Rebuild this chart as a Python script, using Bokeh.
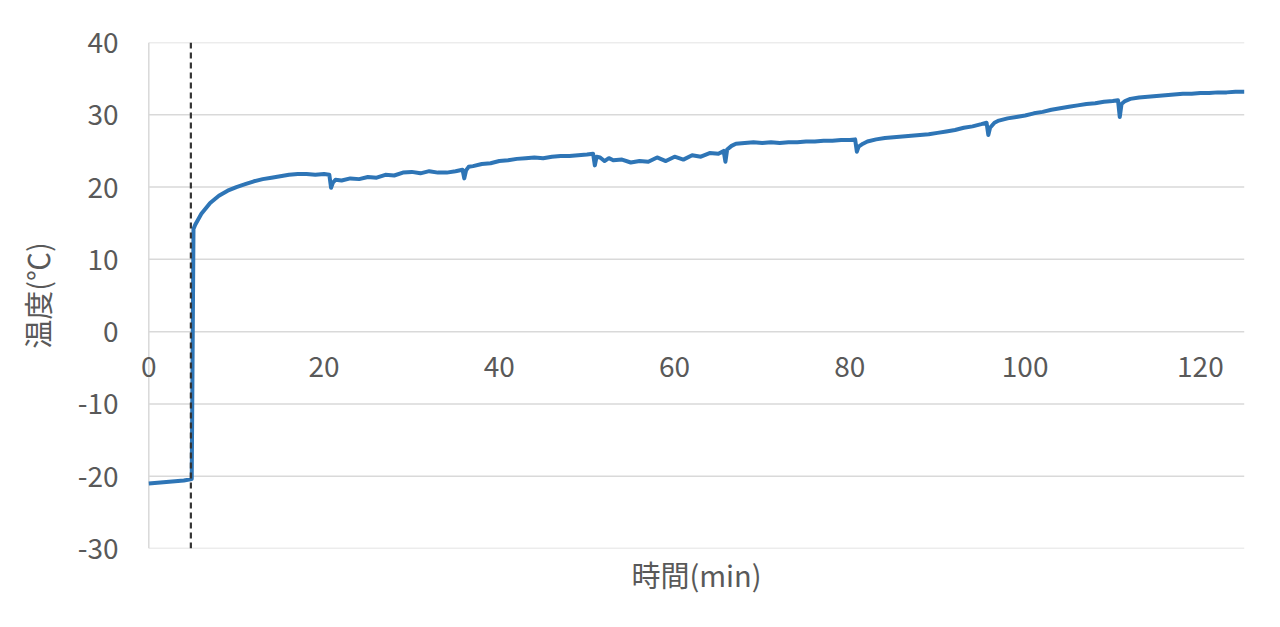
from bokeh.plotting import figure
from bokeh.models import Range1d, ColumnDataSource, Span, LabelSet
from bokeh.core.properties import value
from bokeh.embed import file_html
from bokeh.resources import INLINE

# --- data ---
time_min = [0, 1, 2, 3, 4, 4.9, 5.1, 5.3, 6, 7, 8, 9, 10, 11, 12, 13, 14, 15, 16, 17, 18, 19, 20,
            20.6, 20.8, 21.0, 21.3, 22, 23, 24, 25, 26, 27, 28, 29, 30, 31, 32, 33, 34, 35,
            35.8, 36.0, 36.2, 36.5, 37, 38, 39, 40, 41, 42, 43, 44, 45, 46, 47, 48, 49, 50,
            50.7, 50.9, 51.1, 51.5, 52, 52.5, 53, 54, 55, 56, 57, 58, 59, 60, 61, 62, 63, 64, 65,
            65.6, 65.8, 66.0, 66.5, 67, 68, 69, 70, 71, 72, 73, 74, 75, 76, 77, 78, 79, 80,
            80.6, 80.8, 81.0, 81.5, 82, 83, 84, 85, 86, 87, 88, 89, 90, 91, 92, 93, 94, 95,
            95.6, 95.8, 96.0, 96.5, 97, 98, 99, 100, 101, 102, 103, 104, 105, 106, 107, 108, 109, 110,
            110.6, 110.8, 111.0, 111.4, 112, 113, 114, 115, 116, 117, 118, 119, 120, 121, 122, 123, 124, 125]
temp_c = [-21.0, -20.9, -20.8, -20.7, -20.6, -20.4, 14.2, 14.8, 16.3, 17.8, 18.8, 19.5, 20.0, 20.4, 20.8, 21.1, 21.3, 21.5, 21.7, 21.8, 21.8, 21.7, 21.8,
          21.7, 19.9, 20.6, 21.0, 20.9, 21.2, 21.1, 21.4, 21.3, 21.7, 21.6, 22.0, 22.1, 21.9, 22.2, 22.0, 22.0, 22.2,
          22.4, 21.2, 22.3, 22.8, 22.9, 23.2, 23.3, 23.6, 23.7, 23.9, 24.0, 24.1, 24.0, 24.2, 24.3, 24.3, 24.4, 24.5,
          24.6, 23.0, 24.2, 24.1, 23.6, 24.0, 23.7, 23.8, 23.4, 23.6, 23.5, 24.1, 23.6, 24.2, 23.8, 24.4, 24.2, 24.7, 24.6,
          25.0, 23.5, 25.2, 25.7, 26.0, 26.1, 26.2, 26.1, 26.2, 26.1, 26.2, 26.2, 26.3, 26.3, 26.4, 26.4, 26.5, 26.5,
          26.6, 24.9, 25.6, 26.0, 26.3, 26.6, 26.8, 26.9, 27.0, 27.1, 27.2, 27.3, 27.5, 27.7, 27.9, 28.2, 28.4, 28.7,
          28.9, 27.2, 28.2, 28.9, 29.2, 29.5, 29.7, 29.9, 30.2, 30.4, 30.7, 30.9, 31.1, 31.3, 31.5, 31.6, 31.8, 31.9,
          32.0, 29.7, 31.5, 31.9, 32.2, 32.4, 32.5, 32.6, 32.7, 32.8, 32.9, 32.9, 33.0, 33.0, 33.1, 33.1, 33.2, 33.2]
x_ticks = [0, 20, 40, 60, 80, 100, 120]
x_tick_labels = ["0", "20", "40", "60", "80", "100", "120"]
y_ticks = [-30, -20, -10, 0, 10, 20, 30, 40]
y_tick_labels = ["-30", "-20", "-10", "0", "10", "20", "30", "40"]
x_min, x_max = 0, 125
y_min, y_max = -30, 40
event_time = 4.8

GRAY_TXT = "#595959"
GRID = "#d9d9d9"
FONT = "Noto Sans CJK JP"

# the frame is padded left/right so the "0" tick label at the axis is not clipped
p = figure(width=1275, height=611, output_backend="svg", toolbar_location=None,
           x_range=Range1d(x_min - 3, x_max + 3), y_range=Range1d(y_min, y_max),
           min_border_left=122, min_border_right=5, min_border_top=42, min_border_bottom=63)
p.outline_line_color = None
p.background_fill_color = "white"
p.grid.visible = False

# gridlines and left axis line, drawn over the data extent only
grid = ColumnDataSource(dict(y=y_ticks, x0=[x_min] * len(y_ticks), x1=[x_max] * len(y_ticks)))
p.segment(x0="x0", x1="x1", y0="y", y1="y", source=grid, line_color=GRID, line_width=1.5)
p.segment(x0=[x_min], x1=[x_min], y0=[y_min], y1=[y_max], line_color=GRID, line_width=1.5)

p.yaxis.ticker = y_ticks
p.yaxis.major_label_overrides = {t: s for t, s in zip(y_ticks, y_tick_labels)}
p.yaxis.axis_line_color = None
p.yaxis.major_tick_line_color = None
p.yaxis.minor_tick_line_color = None
p.yaxis.major_tick_out = 0
p.yaxis.major_tick_in = 0
p.yaxis.minor_tick_out = 0
p.yaxis.major_label_standoff = 4
p.yaxis.major_label_text_font = FONT
p.yaxis.major_label_text_font_size = "28px"
p.yaxis.major_label_text_color = GRAY_TXT
p.yaxis.axis_label = "温度(℃)"
p.yaxis.axis_label_text_font = FONT
p.yaxis.axis_label_text_font_size = "29px"
p.yaxis.axis_label_text_font_style = "normal"
p.yaxis.axis_label_text_color = GRAY_TXT
p.yaxis.axis_label_standoff = 17

p.xaxis.ticker = x_ticks
p.xaxis.axis_line_color = None
p.xaxis.major_tick_line_color = None
p.xaxis.minor_tick_line_color = None
p.xaxis.major_tick_out = 0
p.xaxis.major_tick_in = 0
p.xaxis.minor_tick_out = 0
p.xaxis.major_label_text_font_size = "0px"
p.xaxis.major_label_text_color = None
p.xaxis.axis_label = "時間(min)"
p.xaxis.axis_label_text_font = FONT
p.xaxis.axis_label_text_font_size = "29px"
p.xaxis.axis_label_text_font_style = "normal"
p.xaxis.axis_label_text_color = GRAY_TXT
p.xaxis.axis_label_standoff = 4

src = ColumnDataSource(dict(t=time_min, v=temp_c))
p.line(x="t", y="v", source=src, line_color="#2E75B6", line_width=4, line_join="round")

p.segment(x0=[event_time], x1=[event_time], y0=[y_min], y1=[y_max], line_color="#333333",
          line_width=2.2, line_dash="6 4")

# x tick labels sitting below the zero line
lab = ColumnDataSource(dict(x=x_ticks, y=[0] * len(x_ticks), t=x_tick_labels))
p.add_layout(LabelSet(x="x", y="y", text="t", source=lab, text_align="center",
                      text_baseline="middle", y_offset=-35, text_font=value(FONT),
                      text_font_size="28px", text_color=GRAY_TXT))

open("out.html", "w").write(file_html(p, INLINE))
